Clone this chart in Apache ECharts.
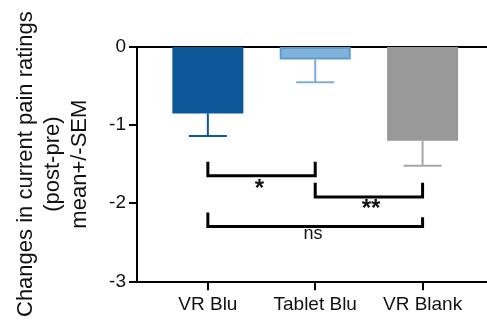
<!DOCTYPE html>
<html><head><meta charset="utf-8">
<script src="https://cdn.jsdelivr.net/npm/echarts@6/dist/echarts.min.js"></script>
<style>html,body{margin:0;padding:0;background:#fff}#c{width:487px;height:320px}</style>
</head><body><div id="c"></div>
<script>
var categories = ['VR Blu', 'Tablet Blu', 'VR Blank'];
var means = [-0.85, -0.16, -1.2];
var sem = [0.29, 0.29, 0.32];
var barColors = ['#0b5798', '#80b2da', '#999999'];
var borderColors = ['#0b5798', '#5b9dd3', '#999999'];
var errColors = ['#0b5798', '#7eaed6', '#a6a6a6'];
// brackets: [x1, x2, yTopLeft, yTopRight, yBottom]
var brackets = [[0, 1, -1.47, -1.47, -1.65], [1, 2, -1.74, -1.74, -1.92], [0, 2, -2.12, -2.18, -2.3]];
var sigLabels = [{x: 0.48, y: -1.82, t: '*'}, {x: 1.52, y: -2.08, t: '**'}, {x: 0.98, y: -2.4, t: 'ns'}];

var FONT = '"Liberation Sans", Arial, Helvetica, sans-serif';
var chart = echarts.init(document.getElementById('c'), null, {renderer: 'canvas'});
var xMin = -0.66, xMax = 2.6;
chart.setOption({
  animation: false,
  grid: {left: 137, right: 0, top: 47, bottom: 35},
  xAxis: [{
    type: 'value', min: xMin, max: xMax, position: 'bottom',
    axisLine: {show: true, onZero: false, lineStyle: {color: '#000', width: 2}},
    axisTick: {show: true, customValues: [0, 1, 2], length: 9, lineStyle: {color: '#000', width: 2}},
    axisLabel: {customValues: [0, 1, 2], formatter: function (v) { return categories[Math.round(v)]; },
      color: '#111', fontSize: 19, fontFamily: FONT, margin: 14},
    splitLine: {show: false}
  }, {
    type: 'value', min: xMin, max: xMax, position: 'top',
    axisLine: {show: true, onZero: false, lineStyle: {color: '#000', width: 2}},
    axisTick: {show: false}, axisLabel: {show: false}, splitLine: {show: false}
  }],
  yAxis: {
    type: 'value', min: -3, max: 0, interval: 1,
    axisLine: {show: true, onZero: false, lineStyle: {color: '#000', width: 2}},
    axisTick: {show: true, length: 8, lineStyle: {color: '#000', width: 2}},
    axisLabel: {color: '#111', fontSize: 19, fontFamily: FONT, margin: 11},
    splitLine: {show: false},
    name: 'Changes in current pain ratings\n(post-pre)\nmean+/-SEM',
    nameLocation: 'middle', nameGap: 44, nameRotate: 90,
    nameTextStyle: {color: '#111', fontSize: 22, fontFamily: FONT, lineHeight: 27, align: 'center'}
  },
  series: [{
    type: 'bar', barWidth: 71, xAxisIndex: 0,
    data: means.map(function (m, i) {
      return {value: [i, m], itemStyle: {color: barColors[i], borderColor: borderColors[i], borderWidth: i === 1 ? 2 : 0}};
    }),
    z: 3
  }, {
    type: 'custom', xAxisIndex: 0, z: 2,
    data: means.map(function (m, i) { return [i, m, m - sem[i]]; }),
    renderItem: function (params, api) {
      var i = api.value(0);
      var p1 = api.coord([i, api.value(1)]);
      var p2 = api.coord([i, api.value(2)]);
      var c = errColors[params.dataIndex];
      return {type: 'group', children: [
        {type: 'line', shape: {x1: p1[0], y1: p1[1], x2: p2[0], y2: p2[1]}, style: {stroke: c, lineWidth: 2}},
        {type: 'line', shape: {x1: p2[0] - 19, y1: p2[1], x2: p2[0] + 19, y2: p2[1]}, style: {stroke: c, lineWidth: 2}}
      ]};
    }
  }, {
    type: 'custom', xAxisIndex: 0, z: 4,
    data: brackets,
    renderItem: function (params, api) {
      var a = api.coord([api.value(0), api.value(2)]);
      var b = api.coord([api.value(1), api.value(3)]);
      var c1 = api.coord([api.value(0), api.value(4)]);
      var c2 = api.coord([api.value(1), api.value(4)]);
      return {type: 'polyline', shape: {points: [a, c1, c2, b]},
        style: {stroke: '#000', lineWidth: 3, fill: null, lineJoin: 'miter'}};
    }
  }, {
    type: 'custom', xAxisIndex: 0, z: 5,
    data: sigLabels.map(function (s) { return [s.x, s.y, s.t]; }),
    renderItem: function (params, api) {
      var p = api.coord([api.value(0), api.value(1)]);
      var t = sigLabels[params.dataIndex].t;
      return {type: 'text', x: p[0], y: p[1], style: {text: t, fill: '#111',
        font: (t === 'ns' ? '18px ' : 'bold 24px ') + FONT, align: 'center', verticalAlign: 'middle'}};
    }
  }]
});
</script></body></html>
